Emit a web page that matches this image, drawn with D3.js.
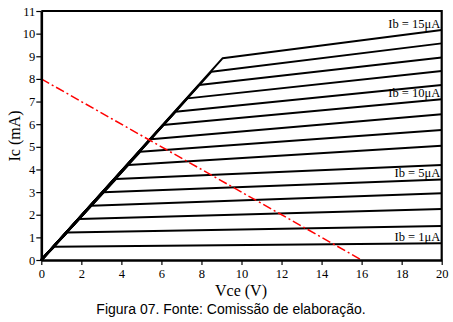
<!DOCTYPE html>
<html>
<head>
<meta charset="utf-8">
<script src="https://cdn.jsdelivr.net/npm/d3@7"></script>
<style>
  body { margin: 0; background: #fff; }
  svg { display: block; }
  .axis text { font-family: "Liberation Serif", serif; font-size: 12.5px; fill: #000; }
  .axis .domain { stroke: #000; stroke-width: 2.6px; }
  .axis .tick line { stroke: #000; stroke-width: 1.2px; }
</style>
</head>
<body>
<svg id="chart" width="453" height="322"></svg>
<script>
// base current for each curve (uA)
var ibValues = [1, 2, 3, 4, 5, 6, 7, 8, 9, 10, 11, 12, 13, 14, 15];
// knee of each curve, where it leaves the saturation line
var kneeVce = [0.66, 1.30, 1.89, 2.49, 3.10, 3.73, 4.35, 4.94, 5.47, 6.07, 6.70, 7.30, 7.88, 8.50, 9.05];
var kneeIc = [0.59, 1.22, 1.81, 2.40, 2.99, 3.58, 4.20, 4.78, 5.33, 5.96, 6.55, 7.14, 7.73, 8.32, 8.91];
// Ic at Vce = 20 V
var endIc = [0.74, 1.50, 2.25, 2.95, 3.56, 4.20, 5.05, 5.74, 6.44, 7.10, 7.73, 8.35, 8.95, 9.57, 10.16];
var labelled = [1, 5, 10, 15];

// load line
var loadLine = [[0, 8], [16, 0]];

var xTicks = [0, 2, 4, 6, 8, 10, 12, 14, 16, 18, 20];
var yTicks = [0, 1, 2, 3, 4, 5, 6, 7, 8, 9, 10, 11];

var svg = d3.select("svg#chart");

var x = d3.scaleLinear().domain([0, 20]).range([41.3, 441.7]),
  y = d3.scaleLinear().domain([0, 11]).range([260, 11]);

var line = d3.line()
  .x(function(d) { return x(d[0]); })
  .y(function(d) { return y(d[1]); });

// frame (top and right)
svg.append("path")
  .attr("d", "M" + x(0) + "," + y(11) + "H" + x(20) + "V" + y(0))
  .attr("fill", "none")
  .attr("stroke", "#000")
  .attr("stroke-width", 2.2);

// characteristic curves
var curves = ibValues.map(function(ib, i) {
  return {ib: ib, pts: [[0, 0], [kneeVce[i], kneeIc[i]], [20, endIc[i]]]};
});

svg.append("g").selectAll("path")
  .data(curves)
  .enter().append("path")
  .attr("d", function(d) { return line(d.pts); })
  .attr("fill", "none")
  .attr("stroke", "#000")
  .attr("stroke-width", 2)
  .attr("stroke-linejoin", "round");

svg.append("path")
  .attr("d", line(loadLine))
  .attr("fill", "none")
  .attr("stroke", "#ff0000")
  .attr("stroke-width", 1.5)
  .attr("stroke-dasharray", "9,3,2,3");

svg.append("g").selectAll("text")
  .data(curves.filter(function(d) { return labelled.indexOf(d.ib) >= 0; }))
  .enter().append("text")
  .attr("x", x(20) - 1.5)
  .attr("y", function(d) { return y(d.pts[2][1]) - 2.5; })
  .attr("text-anchor", "end")
  .style("font", "12.5px 'Liberation Serif', serif")
  .text(function(d) { return "Ib = " + d.ib + "\u03bcA"; });

svg.append("g")
  .attr("class", "axis")
  .attr("transform", "translate(0," + y(0) + ")")
  .call(d3.axisBottom(x).tickValues(xTicks).tickSize(5).tickSizeOuter(0).tickPadding(4));

svg.append("g")
  .attr("class", "axis")
  .attr("transform", "translate(" + x(0) + ",0)")
  .call(d3.axisLeft(y).tickValues(yTicks).tickSize(5).tickSizeOuter(0).tickPadding(1));

svg.append("text")
  .attr("x", 241)
  .attr("y", 296)
  .attr("text-anchor", "middle")
  .style("font", "16px 'Liberation Serif', serif")
  .text("Vce (V)");

svg.append("text")
  .attr("transform", "translate(20,136) rotate(-90)")
  .attr("text-anchor", "middle")
  .style("font", "16px 'Liberation Serif', serif")
  .text("Ic (mA)");

svg.append("text")
  .attr("x", 231)
  .attr("y", 314)
  .attr("text-anchor", "middle")
  .style("font", "14px 'Liberation Sans', Arial, sans-serif")
  .text("Figura 07. Fonte: Comissão de elaboração.");
</script>
</body>
</html>
